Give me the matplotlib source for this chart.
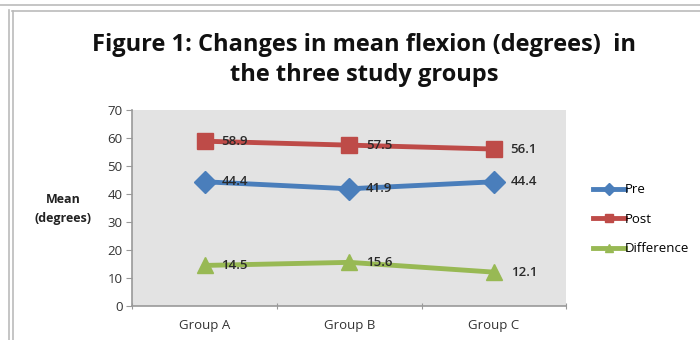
import numpy as np
import matplotlib.pyplot as plt
from matplotlib.lines import Line2D

groups = ['Group A', 'Group B', 'Group C']
pre = [44.4, 41.9, 44.4]
post = [58.9, 57.5, 56.1]
difference = [14.5, 15.6, 12.1]

series = [
    ('Pre', pre, '#4a7ebb', 'D', 11),
    ('Post', post, '#be4b48', 's', 12),
    ('Difference', difference, '#98b954', '^', 12),
]

plt.rcParams['font.family'] = ['Open Sans', 'DejaVu Sans']

fig = plt.figure(figsize=(7, 3.4), dpi=100)
ax = fig.add_axes([0.189, 0.1, 0.62, 0.576])
ax.set_facecolor('#e3e3e3')

x = np.arange(len(groups))
for name, vals, col, mk, ms in series:
    ax.plot(x, vals, color=col, lw=3.5, marker=mk, ms=ms, label=name,
            solid_capstyle='round')
    for xi, v in zip(x, vals):
        ax.annotate(f'{v}', (xi, v), xytext=(12, 0), textcoords='offset points',
                    ha='left', va='center', fontsize=9.5, fontweight='semibold',
                    color='#2a2a2a')

ax.set_xlim(-0.5, 2.5)
ax.set_ylim(0, 70)
ax.set_yticks(range(0, 71, 10))
ax.set_xticks([-0.5, 0.5, 1.5, 2.5], minor=False)
ax.set_xticklabels([])
ax.set_xticks(x, minor=True)
ax.set_xticklabels(groups, minor=True)
ax.tick_params(axis='x', which='major', length=4, direction='inout', color='#999999')
ax.tick_params(axis='x', which='minor', length=0, pad=9, labelsize=9.5,
               labelcolor='#333333')
ax.tick_params(axis='y', length=4, direction='out', color='#999999',
               labelsize=9.5, labelcolor='#333333', pad=3)
for s in ['top', 'right']:
    ax.spines[s].set_visible(False)
for s in ['left', 'bottom']:
    ax.spines[s].set_color('#999999')
    ax.spines[s].set_linewidth(1.2)

fig.text(0.09, 0.385, 'Mean\n(degrees)', ha='center', va='center',
         fontsize=9, fontweight='bold', color='#222222', linespacing=1.55)

fig.text(0.52, 0.868, 'Figure 1: Changes in mean flexion (degrees)  in',
         ha='center', va='center', fontsize=17, fontweight='bold', color='#111111')
fig.text(0.52, 0.78, 'the three study groups',
         ha='center', va='center', fontsize=17, fontweight='bold', color='#111111')

handles = [Line2D([], [], color=col, lw=3.5, marker=mk, ms=6)
           for _, _, col, mk, _ in series]
fig.legend(handles, [s[0] for s in series], loc='center left',
           bbox_to_anchor=(0.83, 0.355), frameon=False, fontsize=9.5,
           handlelength=2.4, handletextpad=0.0, labelspacing=1.25)

# page frame lines
fig.add_artist(Line2D([0.0, 1.0], [0.985, 0.985], color='#bbbbbb', lw=1.2))
fig.add_artist(Line2D([0.017, 1.0], [0.968, 0.968], color='#bbbbbb', lw=1.2))
fig.add_artist(Line2D([0.013, 0.013], [0.0, 0.97], color='#bbbbbb', lw=1.2))
fig.add_artist(Line2D([0.018, 0.018], [0.0, 0.968], color='#bbbbbb', lw=1.2))

fig.savefig('out.png', dpi=100)
